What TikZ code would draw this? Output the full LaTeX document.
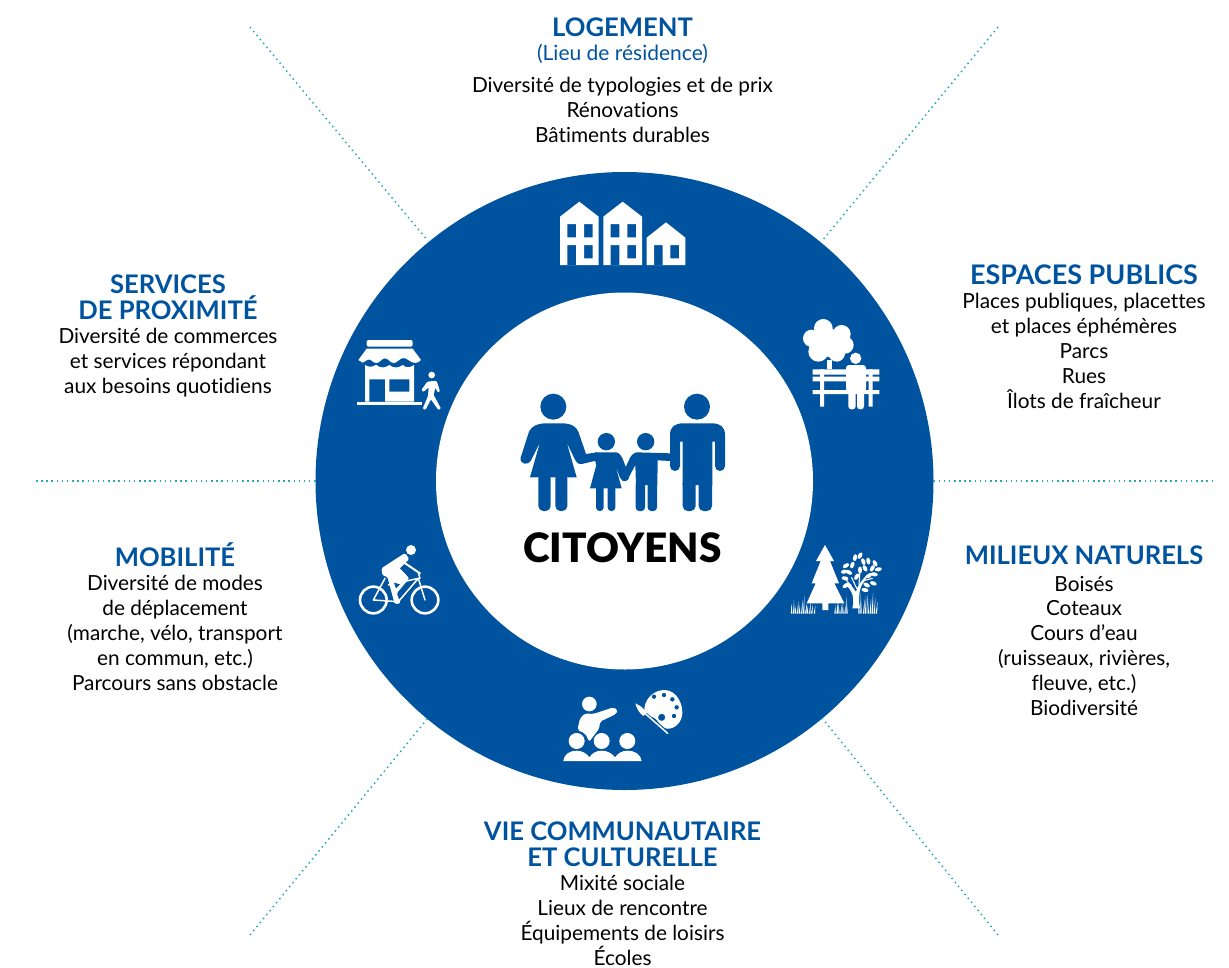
\documentclass[tikz,border=0pt]{standalone}
\usepackage{fontspec}
\setmainfont[Ligatures=NoCommon]{Lato}
\newfontfamily\lblack[Ligatures=NoCommon,UprightFont=* Black]{Lato}
\definecolor{cblue}{RGB}{0,83,159}
\definecolor{cteal}{RGB}{40,170,180}
\tikzset{
  ttl/.style={text=cblue,font=\fontsize{25.6}{26}\selectfont\bfseries,align=center,inner sep=0pt},
  sub/.style={text=cblue,font=\fontsize{21}{24}\selectfont,align=center,inner sep=0pt},
  txt/.style={text=black,font=\fontsize{20.8}{24.8}\selectfont,align=center,inner sep=0pt},
  spoke/.style={draw=cteal,line width=1.5pt,dash pattern=on 1.5pt off 3.65pt},
  zm/.style={x=0.33333pt,y=-0.33333pt},
  wl/.style={draw=white,line cap=round,line join=round},
}
\begin{document}
\begin{tikzpicture}[x=1pt,y=-1pt]
\useasboundingbox (0,0) rectangle (1229,967);
% ring
\node (ring) at (624.5,481) [circle,minimum size=618pt,inner sep=0pt,fill=cblue] {};
\node (hole) at (624.5,481) [circle,minimum size=377pt,inner sep=0pt,fill=white] {};
% spokes
\coordinate (s1) at (250,27); \coordinate (e1) at (428,241);
\coordinate (s2) at (998,27); \coordinate (e2) at (822,241);
\coordinate (s3) at (36,481); \coordinate (e3) at (316,481);
\coordinate (s4) at (1213,481); \coordinate (e4) at (934,481);
\coordinate (s5) at (250,935); \coordinate (e5) at (428,718);
\coordinate (s6) at (998,935); \coordinate (e6) at (822,718);
\foreach \i in {1,...,6} \draw[spoke] (s\i) -- (e\i);
% texts
\node[ttl] (t1) at (622.5,27) {LOGEMENT};
\node[sub] (t1b) at (622.5,54) {(Lieu de résidence)};
\node[txt] (b1) at (622.5,110) {Diversité de typologies et de prix\\Rénovations\\Bâtiments durables};
\node[ttl,font=\fontsize{27}{26}\selectfont\bfseries] (t2) at (1084,274.5) {ESPACES PUBLICS};
\node[txt] (b2) at (1084,351) {Places publiques, placettes\\et places éphémères\\Parcs\\Rues\\Îlots de fraîcheur};
\node[ttl] (t3) at (168,297) {SERVICES\\DE PROXIMITÉ};
\node[txt] (b3) at (168,362.5) {Diversité de commerces\\et services répondant\\aux besoins quotidiens};
\node[ttl] (t4) at (175,555) {MOBILITÉ};
\node[txt] (b4) at (175,633) {Diversité de modes\\de déplacement\\(marche, vélo, transport\\en commun, etc.)\\Parcours sans obstacle};
\node[ttl] (t5) at (1084,555.5) {MILIEUX NATURELS};
\node[txt] (b5) at (1084,645.5) {Boisés\\Coteaux\\Cours d’eau\\(ruisseaux, rivières,\\fleuve, etc.)\\Biodiversité};
\node[ttl] (t6) at (622.5,844) {VIE COMMUNAUTAIRE\\ET CULTURELLE};
\node[txt] (b6) at (622.5,920.5) {Mixité sociale\\Lieux de rencontre\\Équipements de loisirs\\Écoles};
\node[inner sep=0pt,font=\fontsize{40.5}{44}\selectfont\lblack] (ctr) at (622.5,548) {CITOYENS};
% houses
\begin{scope}[shift={(540,190)},zm]
 \fill[white,even odd rule] (60,80)--(118,35)--(176,80)--(176,225)--(60,225)--cycle
   (82,102) rectangle (108,142) (132,102) rectangle (158,142) (82,165) rectangle (108,225) (132,165) rectangle (158,205);
 \fill[white,even odd rule] (190,80)--(248,35)--(306,80)--(306,225)--(190,225)--cycle
   (212,102) rectangle (238,142) (262,102) rectangle (288,142) (212,165) rectangle (238,225) (262,165) rectangle (288,205);
 \fill[white,even odd rule] (320,143)--(378,97)--(436,143)--(436,225)--(320,225)--cycle
   (342,165) rectangle (368,225) (391,165) rectangle (417,205);
\end{scope}
% bench
\begin{scope}[shift={(790,310)},zm]
 \fill[white] (100,55) circle (28) (155,72) circle (27) (65,85) circle (26) (165,105) circle (26) (85,125) circle (30) (125,100) circle (42) (140,130) circle (25);
 \fill[white] (112,150) rectangle (127,178);
 \fill[white] (68,178) rectangle (268,194) (68,200) rectangle (268,214) (68,240) rectangle (268,252);
 \fill[white] (90,178) rectangle (102,290) (236,178) rectangle (248,290);
 \fill[white] (197,145) circle (17);
 \fill[white,rounded corners=3pt] (168,245)--(168,165)--(228,165)--(228,245)--cycle;
 \fill[white,rounded corners=3pt] (175,230) rectangle (197,298) (201,230) rectangle (222,298);
\end{scope}
% trees
\begin{scope}[shift={(785,535)},zm]
 \fill[white] (120,30)--(147,78)--(135,78)--(162,145)--(148,145)--(178,205)--(130,205)--(130,225)--(112,225)--(112,205)--(65,205)--(92,145)--(80,145)--(107,78)--(93,78)--cycle;
 \foreach \x/\h/\d in {20/205/-1,26/195/1,32/210/-2,38/198/2,44/208/-2,50/195/3,56/182/2,62/205/4,68/210/-2,74/200/3,80/208/4,88/212/3,
   150/210/1,156/200/3,162/204/-2,168/208/2,174/204/-1,180/210/2,186/182/-2,222/182/-2,228/172/-1,236/192/3,242/184/1,250/178/-3,256/192/2,262/174/2,268/188/3,274/198/4}
   \fill[white] (\x-2.2,236) -- (\x+\d,\h) -- (\x+2.2,236) -- cycle;
 \fill[white] (202,220) .. controls (208,195) and (206,175) .. (186,152) -- (190,149) .. controls (200,158) and (208,165) .. (213,170)
   .. controls (218,150) and (228,140) .. (245,120) -- (248,123) .. controls (238,140) and (228,150) .. (225,165) .. controls (222,180) and (220,200) .. (225,220) -- cycle;
 \draw[wl,line width=1.1pt] (215,160) -- (200,128) (222,148) -- (225,108) (232,138) -- (262,130) (207,165) -- (180,130);
 \foreach \x/\y/\a in {210/68/80,183/92/30,178/110/10,192/112/-30,202/90/70,225/62/60,235/80/110,250/78/100,270/85/120,280/103/10,
   268/118/-10,180/130/-10,190/150/-20,265/145/-20,245/150/-30,240/165/-10,225/105/90,215/125/60,252/122/40,240/100/120,182/152/30,262/100/60}
   \fill[white,rotate around={\a:(\x,\y)}] (\x,\y) ellipse (10.5 and 6);
\end{scope}
% group
\begin{scope}[shift={(550,680)},zm]
 \fill[white] (118,72) circle (22);
 \fill[white,rounded corners=2pt] (82,150)--(90,115)--(105,100)--(130,102)--(190,82)--(204,90)--(198,102)--(150,125)--(148,145)--(118,185)--(105,160)--cycle;
 \fill[cblue] (80,183) circle (28) (155,183) circle (28);
 \fill[white] (80,183) circle (24) (155,183) circle (24) (232,183) circle (24);
 \fill[white] (40,243) .. controls (42,222) and (60,212) .. (80,212) .. controls (98,212) and (112,222) .. (118,232)
   .. controls (124,222) and (136,212) .. (155,212) .. controls (174,212) and (188,222) .. (195,232)
   .. controls (202,222) and (214,212) .. (232,212) .. controls (254,212) and (272,222) .. (275,243) -- cycle;
 % palette
 \fill[white,even odd rule] (283,85) .. controls (288,50) and (315,30) .. (345,30) .. controls (380,32) and (398,70) .. (397,100)
   .. controls (395,130) and (372,148) .. (350,146) .. controls (338,145) and (330,135) .. (322,122) .. controls (315,108) and (290,115) .. (283,85) -- cycle
   (312,50) circle (7) (342,45) circle (7) (367,58) circle (7) (380,82) circle (7) (372,108) circle (7) (335,112) circle (11);
 \draw[cblue,line width=3pt] (282,98) -- (350,155);
 \draw[wl,line width=1.5pt] (285,100) -- (353,160);
 \fill[white] (256,70) .. controls (275,78) and (285,90) .. (290,98) -- (280,108) .. controls (268,100) and (260,85) .. (256,70) -- cycle;
\end{scope}
% bike
\begin{scope}[shift={(350,535)},zm]
 \fill[white] (183,45) circle (15);
 \draw[white,line width=2.6pt] (70,195) circle (40) (225,195) circle (40);
 \draw[wl,line width=1.5pt] (70,195) -- (145,200) -- (205,130) -- (225,195) (70,195) -- (105,130) (205,113) -- (210,130) (115,150) -- (205,130);
 \fill[white,rounded corners=1.5pt] (94,100)--(165,54)--(178,72)--(150,100)--(178,130)--(140,175)--(152,205)--(134,207)--(112,125)--(98,122)--cycle;
 \fill[cblue] (132,143)--(150,148)--(138,160)--cycle;
 \fill[cblue] (150,100)--(165,86)--(193,113)--(178,125)--cycle;
 \draw[wl,line width=2pt] (158,80) -- (210,115);
\end{scope}
% shop
\begin{scope}[shift={(350,330)},zm]
 \fill[white,rounded corners=2pt] (50,30) rectangle (188,50);
 \fill[white] (50,56)--(188,56)--(213,90) .. controls (205,100) and (190,103) .. (175,90) .. controls (165,82) and (155,82) .. (145,92) .. controls (135,102) and (125,100) .. (118,92) .. controls (108,82) and (100,84) .. (92,92) .. controls (85,102) and (72,100) .. (65,92) .. controls (55,84) and (50,92) .. (38,98) -- (25,90) -- cycle;
 \fill[white,even odd rule] (45,105) .. controls (55,112) and (70,112) .. (78,104) .. controls (90,115) and (105,115) .. (118,105) .. controls (130,115) and (145,115) .. (158,105) .. controls (170,115) and (180,113) .. (192,105) -- (192,215) -- (45,215) -- cycle
   (58,148) rectangle (105,215) (118,148) rectangle (178,185);
 \fill[white] (20,215) rectangle (215,224);
 \fill[white] (245,135) circle (10);
 \fill[white,rounded corners=1pt] (232,155)--(258,152)--(262,158)--(270,185)--(263,187)--(256,172)--(251,195)--(273,236)--(265,240)--(243,208)--(226,240)--(218,236)--(234,198)--(236,172)--(220,186)--(214,180)--cycle;
\end{scope}
% family
\begin{scope}[shift={(510,385)},zm]
 \fill[cblue] (130,65) circle (39) (561,65) circle (39) (289,170) circle (26) (407,170) circle (26);
 % woman
 \fill[cblue] (110,115)--(155,115) .. controls (185,115) and (198,125) .. (205,140) -- (228,207) -- (262,202) -- (262,226) -- (215,237) .. controls (203,238) and (197,230) .. (194,222) -- (170,172) -- (200,277) -- (60,277) -- (90,172) -- (62,228) .. controls (55,242) and (28,238) .. (32,218) -- (57,140) .. controls (65,122) and (85,115) .. (110,115) -- cycle;
 \fill[cblue,rounded corners=5pt] (85,265) rectangle (122,378) (136,265) rectangle (172,378);
 % girl
 \fill[cblue] (255,202)--(320,202) .. controls (332,205) and (338,220) .. (345,240) -- (358,270) .. controls (358,292) and (338,295) .. (330,278) -- (316,240) -- (335,310) -- (240,310) -- (259,240) -- (255,226) -- cycle;
 \fill[cblue,rounded corners=3.5pt] (258,300) rectangle (281,378) (293,300) rectangle (316,378);
 % boy
 \fill[cblue] (380,202)--(482,205)--(482,228)--(443,226)--(442,300)--(378,300)--(376,240)--(352,285)--(336,270)--(357,225) .. controls (362,212) and (370,204) .. (380,202) -- cycle;
 \fill[cblue,rounded corners=3.5pt] (377,290) rectangle (405,378) (413,290) rectangle (441,378);
 % man
 \fill[cblue] (480,150) .. controls (480,125) and (495,115) .. (520,115) -- (605,115) .. controls (630,115) and (645,125) .. (645,150) -- (645,243) arc (0:180:15) -- (615,170) -- (607,170) -- (607,300) -- (518,300) -- (518,170) -- (510,170) -- (510,243) arc (0:180:15) -- cycle;
 \fill[cblue,rounded corners=5pt] (518,280) rectangle (557,378) (566,280) rectangle (606,378);
\end{scope}
\end{tikzpicture}
\end{document}
